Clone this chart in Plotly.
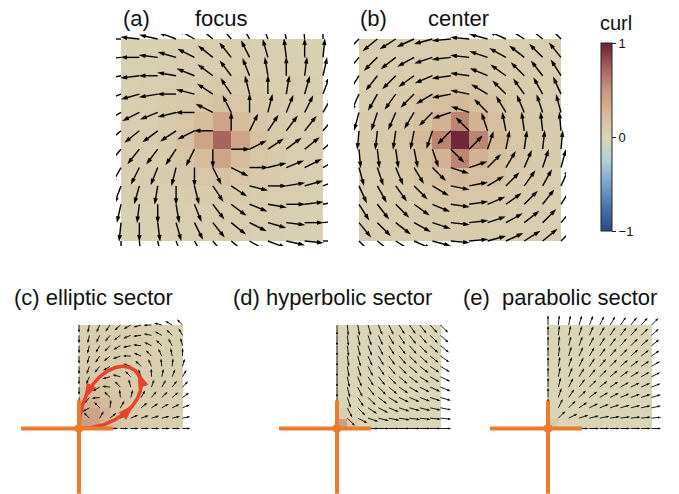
import numpy as np
import plotly.graph_objects as go

W, H = 679, 494
FONT = "Liberation Sans, Arial, sans-serif"

# ---------------- data ----------------
# linear systems (dx/dt, dy/dt) = M @ (x, y)
focus_matrix = [[1, -1], [1, 1]]
center_matrix = [[0, -1], [1, 0]]
hyperbolic_matrix = [[1, 0], [0, -1]]
parabolic_matrix = [[1, 0], [0, 1]]
# elliptic sector field: terms (coef, power of x, power of y)
elliptic_vx_terms = [(1, 3, 0), (-2, 1, 2)]
elliptic_vy_terms = [(2, 2, 1), (-1, 0, 3)]
elliptic_loop_size = 0.78
elliptic_loop_arrow_deg = [21, 40, 77]

# curl values (rows top -> bottom)
curl_focus = [
    [.04, .04, .05, .05, .06, .06, .06, .05, .05, .04, .04],
    [.04, .05, .06, .06, .07, .07, .07, .06, .06, .05, .04],
    [.05, .06, .06, .08, .09, .10, .09, .08, .06, .06, .05],
    [.05, .06, .08, .11, .14, .17, .14, .11, .08, .06, .05],
    [.06, .07, .09, .14, .22, .40, .22, .14, .09, .07, .06],
    [.06, .07, .10, .17, .40, .72, .40, .17, .10, .07, .06],
    [.06, .07, .09, .14, .22, .40, .22, .14, .09, .07, .06],
    [.05, .06, .08, .11, .14, .17, .14, .11, .08, .06, .05],
    [.05, .06, .06, .08, .09, .10, .09, .08, .06, .06, .05],
    [.04, .05, .06, .06, .07, .07, .07, .06, .06, .05, .04],
    [.04, .04, .05, .05, .06, .06, .06, .05, .05, .04, .04],
]
curl_center = [
    [.06, .06, .07, .07, .08, .08, .08, .07, .07, .06, .06],
    [.06, .07, .08, .09, .10, .10, .10, .09, .08, .07, .06],
    [.07, .08, .09, .11, .13, .14, .13, .11, .09, .08, .07],
    [.07, .09, .11, .15, .20, .24, .20, .15, .11, .09, .07],
    [.08, .10, .13, .20, .30, .58, .30, .20, .13, .10, .08],
    [.08, .10, .14, .24, .58, .97, .58, .24, .14, .10, .08],
    [.08, .10, .13, .20, .30, .58, .30, .20, .13, .10, .08],
    [.07, .09, .11, .15, .20, .24, .20, .15, .11, .09, .07],
    [.07, .08, .09, .11, .13, .14, .13, .11, .09, .08, .07],
    [.06, .07, .08, .09, .10, .10, .10, .09, .08, .07, .06],
    [.06, .06, .07, .07, .08, .08, .08, .07, .07, .06, .06],
]
curl_elliptic = [
    [.04, .05, .05, .06, .06, .06, .05, .05, .04, .04],
    [.05, .06, .06, .07, .07, .06, .06, .05, .05, .04],
    [.06, .07, .07, .08, .07, .07, .06, .05, .05, .04],
    [.07, .08, .09, .09, .08, .07, .06, .06, .05, .04],
    [.09, .10, .10, .10, .09, .08, .07, .06, .05, .05],
    [.12, .13, .13, .12, .10, .08, .07, .06, .05, .05],
    [.18, .20, .18, .14, .11, .09, .07, .06, .05, .05],
    [.28, .30, .24, .16, .12, .09, .07, .06, .05, .05],
    [.38, .40, .28, .18, .12, .09, .07, .06, .05, .05],
    [.45, .42, .28, .16, .11, .08, .07, .06, .05, .05],
]
curl_hyperbolic = [[0.0] * 10 for _ in range(9)] + [[.45] + [0.0] * 9]
curl_hyperbolic[8][0] = .06
curl_hyperbolic[9][1] = .06
curl_parabolic = [[0.0] * 10 for _ in range(9)] + [[.12] + [0.0] * 9]

colorbar_tickvals = [-1, 0, 1]
colorbar_ticktext = ["\u22121", "0", "1"]

curl_colorscale = [
    [0.0, "#2b4a8b"], [0.125, "#4673ad"], [0.25, "#79a3cb"],
    [0.375, "#b3cfd8"], [0.5, "#d9d5b6"], [0.625, "#d5b998"],
    [0.75, "#c8967e"], [0.875, "#a35e5c"], [1.0, "#6a1f33"],
]

# ---------------- helpers ----------------
def linear_field(M, X, Y):
    return M[0][0] * X + M[0][1] * Y, M[1][0] * X + M[1][1] * Y


def poly_field(terms, X, Y):
    out = np.zeros_like(X)
    for c, px, py in terms:
        out = out + c * X ** px * Y ** py
    return out


fig = go.Figure()
layout_axes = {}


def make_axes(k, x0, y0, s, xr, yr):
    xd = [(x0 + s * xr[0]) / W, (x0 + s * xr[1]) / W]
    yd = [1 - (y0 - s * yr[0]) / H, 1 - (y0 - s * yr[1]) / H]
    xd = [max(0, min(1, v)) for v in xd]
    yd = [max(0, min(1, v)) for v in yd]
    sx = "" if k == 1 else str(k)
    layout_axes["xaxis" + sx] = dict(domain=xd, range=xr, visible=False,
                                     anchor="y" + sx, fixedrange=True)
    layout_axes["yaxis" + sx] = dict(domain=yd, range=yr, visible=False,
                                     anchor="x" + sx, fixedrange=True)
    return "x" + sx, "y" + sx


def add_heat(z_rows, centers, xa, ya):
    z = np.array(z_rows, dtype=float)[::-1]
    fig.add_trace(go.Heatmap(x=centers, y=centers, z=z, coloraxis="coloraxis",
                             xaxis=xa, yaxis=ya, hoverinfo="skip"))


def add_quiver(X, Y, U, V, L, head_px, s, lw, xa, ya):
    xs, ys, hx, hy, ang = [], [], [], [], []
    for x, y, u, v in zip(X.ravel(), Y.ravel(), U.ravel(), V.ravel()):
        n = np.hypot(u, v)
        if n < 1e-12:
            continue
        ux, uy = u / n, v / n
        tx, ty = x + L * ux, y + L * uy
        back = 0.6 * head_px / s
        xs += [float(x), float(tx - back * ux), None]
        ys += [float(y), float(ty - back * uy), None]
        hx.append(float(tx))
        hy.append(float(ty))
        ang.append(float(90 - np.degrees(np.arctan2(uy, ux))))
    fig.add_trace(go.Scatter(x=xs, y=ys, mode="lines",
                             line=dict(color="black", width=lw),
                             xaxis=xa, yaxis=ya, hoverinfo="skip", showlegend=False))
    fig.add_trace(go.Scatter(x=hx, y=hy, mode="markers",
                             marker=dict(symbol="arrow", size=head_px / 0.95, angle=ang,
                                         color="black", line=dict(width=0)),
                             xaxis=xa, yaxis=ya, hoverinfo="skip", showlegend=False))


# ---------------- top panels ----------------
S_TOP = 101
top_grid = np.linspace(-1, 1, 12)
top_centers = (top_grid[:-1] + top_grid[1:]) / 2
TX, TY = np.meshgrid(top_grid, top_grid)
top_range = [-1.05, 1.05]

for k, (x0, M, curl) in enumerate([(222, focus_matrix, curl_focus),
                                   (460, center_matrix, curl_center)], start=1):
    xa, ya = make_axes(k, x0, 140, S_TOP, top_range, top_range)
    add_heat(curl, top_centers, xa, ya)
    U, V = linear_field(M, TX, TY)
    add_quiver(TX, TY, U, V, 0.19, 6.8, S_TOP, 1.4, xa, ya)

# ---------------- bottom panels ----------------
S_BOT = 103.5
bot_grid = np.linspace(0, 1, 11)
bot_centers = (bot_grid[:-1] + bot_grid[1:]) / 2
BX, BY = np.meshgrid(bot_grid, bot_grid)
bx_range = [-0.6, 1.15]
by_range = [-0.63, 1.12]
ORANGE = "#ec7b2d"
RED = "#e8432a"

bottom = [
    (79, curl_elliptic, "elliptic", 0.078),
    (337, curl_hyperbolic, "hyperbolic", 0.105),
    (548, curl_parabolic, "parabolic", 0.095),
]
for k, (x0, curl, kind, L) in enumerate(bottom, start=3):
    xa, ya = make_axes(k, x0, 428.5, S_BOT, bx_range, by_range)
    add_heat(curl, bot_centers, xa, ya)
    if kind == "elliptic":
        U = poly_field(elliptic_vx_terms, BX, BY)
        V = poly_field(elliptic_vy_terms, BX, BY)
    elif kind == "hyperbolic":
        U, V = linear_field(hyperbolic_matrix, BX, BY)
    else:
        U, V = linear_field(parabolic_matrix, BX, BY)
    add_quiver(BX, BY, U, V, L, 3.4, S_BOT, 0.9, xa, ya)

    if kind == "elliptic":
        th = np.linspace(0, np.pi / 2, 200)
        r = elliptic_loop_size * np.sin(2 * th)
        fig.add_trace(go.Scatter(x=r * np.cos(th), y=r * np.sin(th), mode="lines",
                                 line=dict(color=RED, width=3.5),
                                 xaxis=xa, yaxis=ya, hoverinfo="skip", showlegend=False))
        ta = np.radians(elliptic_loop_arrow_deg)
        ra = elliptic_loop_size * np.sin(2 * ta)
        dra = 2 * elliptic_loop_size * np.cos(2 * ta)
        dx = dra * np.cos(ta) - ra * np.sin(ta)
        dy = dra * np.sin(ta) + ra * np.cos(ta)
        angs = [float(a) for a in 90 - np.degrees(np.arctan2(dy, dx))]
        nrm = np.hypot(dx, dy)
        fig.add_trace(go.Scatter(x=[float(v) for v in ra * np.cos(ta) + 0.06 * dx / nrm],
                                 y=[float(v) for v in ra * np.sin(ta) + 0.06 * dy / nrm],
                                 mode="markers",
                                 marker=dict(symbol="arrow", size=17, angle=angs,
                                             color=RED, line=dict(width=0)),
                                 cliponaxis=False,
                                 xaxis=xa, yaxis=ya, hoverinfo="skip", showlegend=False))

    # orange axes cross with the fixed point
    fig.add_trace(go.Scatter(x=[-0.56, 0.33, None, 0, 0], y=[0, 0, None, -0.7, 0.27],
                             mode="lines", line=dict(color=ORANGE, width=4),
                             xaxis=xa, yaxis=ya, hoverinfo="skip", showlegend=False))
    fig.add_trace(go.Scatter(x=[0], y=[0], mode="markers",
                             marker=dict(color=ORANGE, size=9, line=dict(width=0)),
                             xaxis=xa, yaxis=ya, hoverinfo="skip", showlegend=False))

# ---------------- titles ----------------
titles = [
    ("(a)", 122, 19, "left", "middle", 22), ("focus", 221, 18, "center", "middle", 22),
    ("(b)", 359, 19, "left", "middle", 22), ("center", 458, 18, "center", "middle", 22),
    ("(c) elliptic sector", 13, 297, "left", "middle", 22),
    ("(d) hyperbolic sector", 232, 297, "left", "middle", 22),
    ("(e)\u00a0 parabolic sector", 462, 297, "left", "middle", 22),
    ("curl", 599, 35, "left", "bottom", 20),
]
annotations = [dict(text=t, x=px / W, y=1 - py / H, xref="paper", yref="paper",
                    xanchor=xa_, yanchor=ya_, showarrow=False, borderpad=0,
                    font=dict(size=fs, color="#111", family=FONT))
               for t, px, py, xa_, ya_, fs in titles]

fig.update_layout(
    width=W, height=H, margin=dict(l=0, r=0, t=0, b=0),
    paper_bgcolor="white", plot_bgcolor="white",
    font=dict(family=FONT, color="#111"),
    showlegend=False,
    annotations=annotations,
    coloraxis=dict(
        cmin=-1, cmax=1, colorscale=curl_colorscale,
        colorbar=dict(
            x=601 / W, xanchor="left", y=1 - 137 / H, yanchor="middle",
            len=188 / H, lenmode="fraction", thickness=11, thicknessmode="pixels",
            xpad=0, ypad=0, outlinewidth=1, outlinecolor="#222",
            tickvals=colorbar_tickvals, ticktext=colorbar_ticktext,
            ticks="outside", ticklen=4, tickcolor="#222",
            tickfont=dict(size=13, family=FONT, color="#111"),
        ),
    ),
    **layout_axes,
)

fig.write_html("out.html", config={"displayModeBar": False},
               post_script="document.body.style.margin='0';document.body.style.overflow='hidden';")
